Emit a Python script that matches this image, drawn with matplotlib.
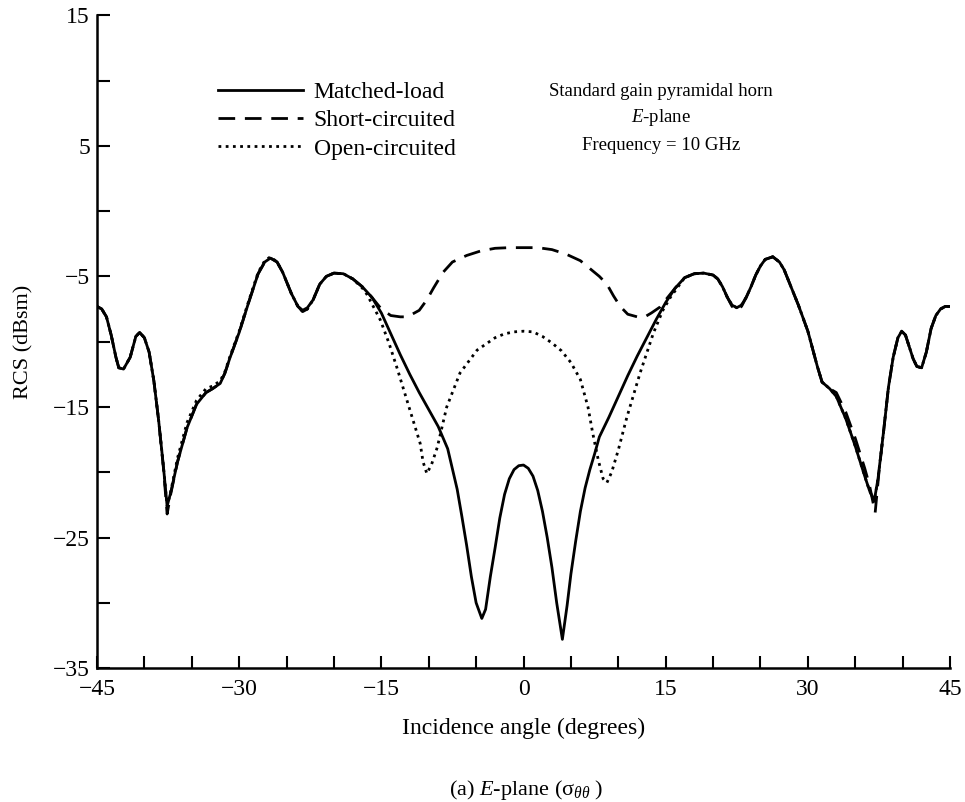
import numpy as np
import matplotlib
matplotlib.use('Agg')
import matplotlib.pyplot as plt
import matplotlib.ticker as ticker

plt.rcParams['font.family'] = ['Liberation Serif', 'DejaVu Serif']
plt.rcParams['mathtext.fontset'] = 'custom'
plt.rcParams['mathtext.rm'] = 'Liberation Serif'
plt.rcParams['mathtext.it'] = 'Liberation Serif:italic'
plt.rcParams['mathtext.bf'] = 'Liberation Serif:bold'

# Matched-load (solid)
angle_ml = [-45, -44.5, -44, -43.5, -43, -42.7, -42.2, -41.5, -40.9, -40.5, -40, -39.5,
            -39, -38.5, -38, -37.6, -37.2, -36.5, -35.5, -34.5, -33.5, -32.8, -32, -31.5,
            -31, -30, -29, -28, -27.3, -26.7, -26, -25.4, -24.5, -23.8, -23.3, -22.8,
            -22.2, -21.5, -20.8, -20, -19, -18, -17, -16, -15, -14, -13, -12, -11, -10,
            -9, -8, -7, -6.5, -6, -5.5, -5, -4.4, -4, -3.5, -3, -2.5, -2, -1.5, -1, -0.5,
            0, 0.5, 1, 1.5, 2, 2.5, 3, 3.5, 4.1, 4.6, 5, 5.5, 6, 6.5, 7, 7.5, 8, 9, 10,
            11, 12, 13, 14, 15, 16, 17, 18, 19, 20, 20.5, 21, 21.5, 22, 22.5, 23, 23.5,
            24, 24.5, 25, 25.5, 26.3, 27, 27.5, 28, 29, 30, 31, 31.5, 32.3, 33, 34, 35,
            36, 36.5, 37, 37.4, 38, 38.5, 39, 39.5, 39.9, 40.3, 40.7, 41.1, 41.5, 42,
            42.5, 43, 43.5, 44, 44.5, 45]
rcs_ml = [-7.3, -7.5, -8.1, -9.5, -11.2, -12.0, -12.1, -11.2, -9.6, -9.3, -9.7, -10.8,
          -13.0, -16.0, -19.5, -22.6, -21.5, -19.2, -16.6, -14.8, -13.9, -13.6, -13.2, -12.4,
          -11.3, -9.3, -7.0, -4.8, -3.9, -3.6, -3.9, -4.7, -6.3, -7.3, -7.6, -7.4,
          -6.8, -5.6, -5.0, -4.75, -4.8, -5.2, -5.8, -6.6, -7.8, -9.4, -11.0, -12.5, -13.9, -15.2,
          -16.5, -18.2, -21.3, -23.4, -25.6, -28.0, -30.0, -31.2, -30.5, -28.0, -25.8, -23.5,
          -21.7, -20.5, -19.8, -19.5,
          -19.45, -19.7, -20.3, -21.4, -23.0, -25.0, -27.3, -30.0, -32.8, -30.2, -27.8, -25.3,
          -23.0, -21.2, -19.8, -18.6, -17.3, -15.8, -14.2,
          -12.6, -11.1, -9.7, -8.3, -7.0, -5.9, -5.1, -4.8, -4.75, -4.9, -5.2, -5.8, -6.6,
          -7.2, -7.4, -7.2, -6.6,
          -5.8, -4.9, -4.2, -3.7, -3.5, -3.9, -4.5, -5.4, -7.2, -9.2, -11.9, -13.1, -13.6,
          -14.2, -15.9, -18.0,
          -20.3, -21.4, -22.2, -20.5, -16.8, -13.5, -11.2, -9.7, -9.2, -9.5, -10.4, -11.3,
          -11.9, -12.0,
          -10.8, -9.0, -8.0, -7.5, -7.3, -7.3]

# Short-circuited (dashed)
angle_sc = [-45, -44.5, -44, -43.5, -43, -42.7, -42.2, -41.5, -40.9, -40.5, -40, -39.5,
            -39, -38.5, -38, -37.6, -37.2, -36.5, -35.5, -34.5, -33.5, -32.8, -32, -31.5,
            -31, -30, -29, -28, -27.3, -26.7, -26, -25.4, -24.5, -23.8, -23.3, -22.8,
            -22.2, -21.5, -20.8, -20, -19, -18, -17, -16, -15, -14, -13, -12.5, -12, -11,
            -10.2, -9.5, -8.5, -7.5, -6, -4.5, -3, -1.5, 0, 1.5, 3, 4.5, 6, 7, 8, 8.8,
            9.5, 10.2, 11, 12, 12.8, 13.5, 14.4, 15, 16, 17, 18, 19, 20, 20.5, 21, 21.5,
            22, 22.5, 23, 23.5, 24, 24.5, 25, 25.5, 26.3, 27, 27.5, 28, 29, 30, 31, 31.5,
            32.3, 33, 34, 35, 36, 36.5, 37.1, 37.5, 38, 38.5, 39, 39.5, 39.9, 40.3, 40.7,
            41.1, 41.5, 42, 42.5, 43, 43.5, 44, 44.5, 45]
rcs_sc = [-7.3, -7.5, -8.1, -9.5, -11.2, -12.0, -12.1, -11.2, -9.6, -9.3, -9.7, -10.8,
          -13.0, -16.0, -19.6, -23.2, -21.6, -19.2, -16.6, -14.8, -13.9, -13.6, -13.2, -12.4,
          -11.3, -9.3, -7.0, -4.8, -3.9, -3.6, -3.9, -4.7, -6.3, -7.3, -7.7, -7.5,
          -6.8, -5.6, -5.0, -4.75, -4.8, -5.2, -5.8, -6.6, -7.5, -8.0, -8.1, -8.1, -8.0, -7.6,
          -6.8, -5.9, -4.7, -3.9, -3.4, -3.05, -2.85, -2.8, -2.8, -2.8, -2.95, -3.3, -3.8, -4.4,
          -5.0, -5.6,
          -6.5, -7.3, -7.9, -8.1, -8.1, -7.8, -7.35, -6.8, -5.9, -5.1, -4.8, -4.75, -4.9, -5.2,
          -5.8, -6.6,
          -7.3, -7.6, -7.3, -6.6, -5.8, -4.9, -4.2, -3.7, -3.5, -3.9, -4.5, -5.4, -7.2, -9.2,
          -11.9, -13.1,
          -13.6, -13.9, -15.4, -17.4, -19.7, -21.0, -23.1, -20.0, -16.8, -13.5, -11.2, -9.7,
          -9.2, -9.5, -10.4,
          -11.3, -11.9, -12.0, -10.8, -9.0, -8.0, -7.5, -7.3, -7.3]

# Open-circuited (dotted)
angle_oc = [-45, -44.5, -44, -43.5, -43, -42.7, -42.2, -41.5, -40.9, -40.5, -40, -39.5,
            -39, -38.5, -38, -37.6, -37.2, -36.5, -35.5, -34.5, -33.5, -32.8, -32, -31.5,
            -31, -30, -29, -28, -27.3, -26.7, -26, -25.4, -24.5, -23.8, -23.3, -22.8,
            -22.2, -21.5, -20.8, -20, -19, -18, -17, -16.5, -15.1, -14.2, -13.35, -12,
            -10.9, -10.6, -10.2, -9.7, -9.1, -8.1, -6.7, -4.9, -4, -3, -2, -1, 0, 1, 2, 3,
            4, 5, 6, 6.8, 7.3, 7.9, 8.4, 8.8, 9.3, 10, 10.9, 12.3, 13.7, 14.7, 15.5, 16.5,
            17, 18, 19, 20, 20.5, 21, 21.5, 22, 22.5, 23, 23.5, 24, 24.5, 25, 25.5, 26.3,
            27, 27.5, 28, 29, 30, 31, 31.5, 32.3, 33, 34, 35, 36, 36.5, 37, 37.4, 38, 38.5,
            39, 39.5, 39.9, 40.3, 40.7, 41.1, 41.5, 42, 42.5, 43, 43.5, 44, 44.5, 45]
rcs_oc = [-7.3, -7.5, -8.1, -9.5, -11.2, -12.0, -12.1, -11.2, -9.6, -9.3, -9.7, -10.8,
          -13.0, -16.0, -19.5, -22.6, -21.4, -18.9, -16.2, -14.5, -13.6, -13.4, -13.0, -12.3,
          -11.2, -9.2, -6.9, -4.7, -3.8, -3.5, -3.9, -4.7, -6.3, -7.3, -7.7, -7.5,
          -6.8, -5.6, -5.0, -4.75, -4.8, -5.2, -5.9, -6.4, -8.35, -10.1, -12.0, -15.2,
          -17.8, -19.2, -20.1, -19.4, -18.1, -15.0, -12.4, -10.65, -10.2, -9.7, -9.4, -9.25,
          -9.2, -9.25, -9.6, -10.1,
          -10.7, -11.6, -12.9, -15.0, -17.0, -19.1, -20.5, -20.8, -20.0, -18.3, -15.8, -12.4,
          -9.35, -7.6, -6.6, -5.6,
          -5.1, -4.8, -4.75, -4.9, -5.2, -5.8, -6.6, -7.2, -7.4, -7.2, -6.6, -5.8, -4.9, -4.2,
          -3.7, -3.5,
          -3.9, -4.5, -5.4, -7.2, -9.2, -11.9, -13.1, -13.6, -14.2, -15.9, -18.0, -20.3, -21.4,
          -22.2, -20.5, -16.8, -13.5,
          -11.2, -9.7, -9.2, -9.5, -10.4, -11.3, -11.9, -12.0, -10.8, -9.0, -8.0, -7.5, -7.3,
          -7.3]

x_major = [-45, -30, -15, 0, 15, 30, 45]
y_major = [-35, -25, -15, -5, 5, 15]

fig = plt.figure(figsize=(9.65, 8.02), dpi=100)
ax = fig.add_axes([0.1005, 0.167, 0.8840, 0.814])

ax.plot(angle_ml, rcs_ml, color='black', lw=2.0, label='Matched-load')
ax.plot(angle_sc, rcs_sc, color='black', lw=2.0, linestyle=(0, (6, 3.5)), label='Short-circuited')
ax.plot(angle_oc, rcs_oc, color='black', lw=2.0, linestyle=(0, (1, 1.6)), label='Open-circuited')

ax.set_xlim(-45, 45)
ax.set_ylim(-35, 15)
ax.spines['top'].set_visible(False)
ax.spines['right'].set_visible(False)
ax.spines['left'].set_linewidth(1.8)
ax.spines['bottom'].set_linewidth(1.8)

ax.xaxis.set_major_locator(ticker.FixedLocator(x_major))
ax.xaxis.set_minor_locator(ticker.MultipleLocator(5))
ax.yaxis.set_major_locator(ticker.FixedLocator(y_major))
ax.yaxis.set_minor_locator(ticker.MultipleLocator(5))
ax.tick_params(which='both', direction='in', length=9, width=1.5, labelsize=17)
ax.tick_params(axis='x', pad=8)
ax.tick_params(axis='y', pad=5)

ax.set_xlabel('Incidence angle (degrees)', fontsize=17, labelpad=13)
ax.set_ylabel('RCS (dBsm)', fontsize=16, labelpad=14)

ax.legend(loc='upper left', bbox_to_anchor=(0.226, 0.898), bbox_transform=fig.transFigure,
          frameon=False, fontsize=17, handlelength=3.6, handletextpad=0.45,
          labelspacing=0.28, borderpad=0, borderaxespad=0)

fig.text(0.685, 1 - 91 / 802, 'Standard gain pyramidal horn', ha='center', va='center', fontsize=13.5)
fig.text(0.685, 1 - 118 / 802, '$E$-plane', ha='center', va='center', fontsize=13.5)
fig.text(0.685, 1 - 146 / 802, 'Frequency = 10 GHz', ha='center', va='center', fontsize=13.5)

fig.text(0.545, 1 - 790 / 802, r'(a) $E$-plane ($\mathrm{\sigma}_{\theta\theta}$ )', ha='center', va='center', fontsize=16)

fig.savefig('out.png', dpi=100)
